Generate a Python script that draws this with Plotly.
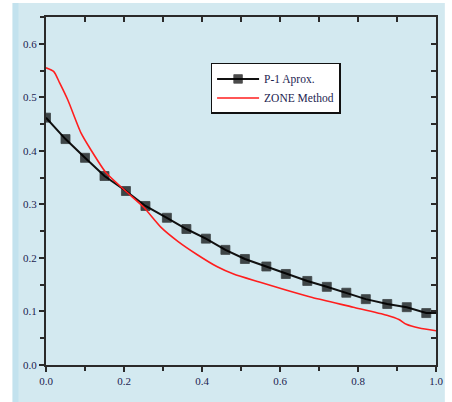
import plotly.graph_objects as go

# P-1 Aprox. series (markers)
p1_x = [0.0, 0.05, 0.10, 0.15, 0.205, 0.255, 0.31, 0.36, 0.41, 0.46, 0.51, 0.565,
        0.615, 0.67, 0.72, 0.77, 0.82, 0.875, 0.925, 0.975, 1.0]
p1_y = [0.462, 0.422, 0.387, 0.353, 0.325, 0.297, 0.275, 0.254, 0.236, 0.215, 0.198,
        0.184, 0.170, 0.157, 0.146, 0.135, 0.123, 0.114, 0.108, 0.097, 0.097]
p1_marker_count = 20

# ZONE Method series (line)
zone_x = [0.0, 0.02, 0.035, 0.056, 0.09, 0.115, 0.154, 0.204, 0.25, 0.295, 0.338,
          0.388, 0.438, 0.481, 0.547, 0.615, 0.683, 0.788, 0.874, 0.905, 0.924, 0.957, 1.0]
zone_y = [0.555, 0.548, 0.527, 0.495, 0.433, 0.402, 0.359, 0.325, 0.295, 0.257, 0.231,
          0.206, 0.184, 0.170, 0.155, 0.140, 0.126, 0.108, 0.093, 0.085, 0.076, 0.069, 0.064]

x_ticks = [0.0, 0.2, 0.4, 0.6, 0.8, 1.0]
y_ticks = [0.0, 0.1, 0.2, 0.3, 0.4, 0.5, 0.6]

FONT = "Liberation Serif"
AX = "#2a2a2a"
TXT = "#1c2350"

fig = go.Figure()

fig.add_trace(go.Scatter(
    x=p1_x, y=p1_y, mode="lines+markers", name="P-1 Aprox.",
    line=dict(color="#111111", width=2),
    marker=dict(symbol="square",
                size=[9 if i < p1_marker_count else 0 for i in range(len(p1_x))],
                color="#000000", line=dict(color="#000000", width=0.8)),
))
fig.add_trace(go.Scatter(
    x=zone_x, y=zone_y, mode="lines", name="ZONE Method",
    line=dict(color="#ff1e1e", width=1.6, shape="spline", smoothing=0.6),
))
# helper trace for the mirrored frame axes
fig.add_trace(go.Scatter(x=[0], y=[0], xaxis="x2", yaxis="y2", mode="markers",
                         marker=dict(opacity=0), showlegend=False, hoverinfo="skip"))

fig.update_layout(
    width=452, height=402,
    margin=dict(l=46, r=9, t=17, b=37),
    paper_bgcolor="#ffffff",
    plot_bgcolor="rgba(0,0,0,0)",
    font=dict(family=FONT, size=12, color=TXT),
    showlegend=True,
    legend=dict(x=0.422, y=0.868, xanchor="left", yanchor="top",
                bgcolor="#ffffff", bordercolor="#111111", borderwidth=1.5,
                font=dict(family=FONT, size=11.5, color=TXT),
                itemwidth=42, tracegroupgap=0),
    xaxis=dict(range=[0, 1.0], tickvals=x_ticks, ticktext=[f"{v:.1f}" for v in x_ticks],
               ticks="outside", ticklen=5, tickwidth=1.5, tickcolor=AX,
               minor=dict(dtick=0.1, ticks="outside", ticklen=4, tickwidth=1.5, tickcolor=AX, showgrid=False),
               showline=True, linecolor=AX, linewidth=2, showgrid=False, zeroline=False,
               tickfont=dict(family=FONT, size=11, color=TXT)),
    yaxis=dict(range=[0, 0.65], tickvals=y_ticks, ticktext=[f"{v:.1f}" for v in y_ticks],
               ticks="outside", ticklen=5, tickwidth=1.5, tickcolor=AX,
               minor=dict(dtick=0.05, ticks="outside", ticklen=4, tickwidth=1.5, tickcolor=AX, showgrid=False),
               showline=True, linecolor=AX, linewidth=2, showgrid=False, zeroline=False,
               tickfont=dict(family=FONT, size=11, color=TXT)),
    xaxis2=dict(overlaying="x", side="top", range=[0, 1.0], dtick=0.1, ticks="inside",
                ticklen=5, tickwidth=1.5, tickcolor=AX, showticklabels=False,
                showline=True, linecolor=AX, linewidth=2, showgrid=False, zeroline=False),
    yaxis2=dict(overlaying="y", side="right", range=[0, 0.65], dtick=0.05, ticks="inside",
                ticklen=5, tickwidth=1.5, tickcolor=AX, showticklabels=False,
                showline=True, linecolor=AX, linewidth=2, showgrid=False, zeroline=False),
    shapes=[
        dict(type="rect", xref="paper", yref="paper", layer="below",
             x0=-34 / 397, x1=1 + 9 / 397, y0=-37 / 348, y1=1 + 14 / 348,
             line=dict(width=0), fillcolor="#d3e9f0"),
        dict(type="rect", xref="paper", yref="paper", layer="below",
             x0=-34 / 397, x1=-28 / 397, y0=-37 / 348, y1=1 + 14 / 348,
             line=dict(width=0), fillcolor="#c3e2ee"),
    ],
)

fig.write_html("out.html", config={"displayModeBar": False},
               post_script="document.body.style.margin='0';document.body.style.overflow='hidden';")
